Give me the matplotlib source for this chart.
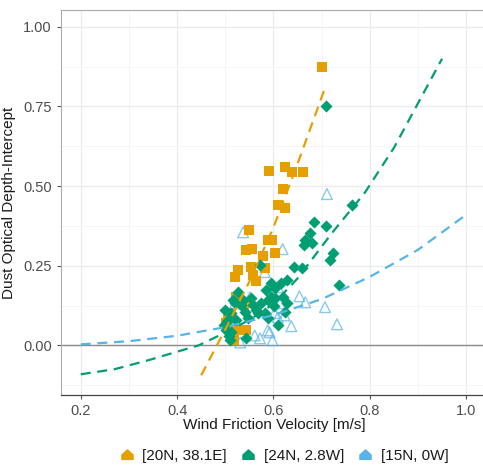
import matplotlib
matplotlib.use('Agg')
import matplotlib.pyplot as plt
import numpy as np
from matplotlib.path import Path
from matplotlib.lines import Line2D

plt.rcParams['font.family'] = ['Liberation Sans', 'DejaVu Sans']

# --- data ---
# [20N, 38.1E]
orange_x = [0.701, 0.590, 0.625, 0.639, 0.662, 0.619, 0.609, 0.623, 0.549, 0.588,
            0.596, 0.543, 0.555, 0.604, 0.578, 0.553, 0.526, 0.520, 0.557, 0.563,
            0.582, 0.522, 0.531, 0.539, 0.506, 0.547, 0.522, 0.543, 0.502, 0.512, 0.518]
orange_y = [0.874, 0.547, 0.560, 0.544, 0.544, 0.491, 0.440, 0.431, 0.362, 0.330,
            0.330, 0.299, 0.302, 0.289, 0.280, 0.245, 0.236, 0.214, 0.220, 0.201,
            0.242, 0.151, 0.132, 0.126, 0.101, 0.132, 0.047, 0.047, 0.069, 0.085, 0.016]

# [24N, 2.8W]
green_x = [0.709, 0.763, 0.685, 0.709, 0.676, 0.666, 0.664, 0.680, 0.724, 0.717,
           0.643, 0.660, 0.736, 0.629, 0.615, 0.604, 0.572, 0.594, 0.619, 0.629,
           0.588, 0.526, 0.533, 0.574, 0.563, 0.582, 0.588, 0.547, 0.625, 0.609,
           0.506, 0.502, 0.512, 0.543, 0.510, 0.604, 0.568, 0.602, 0.512, 0.520,
           0.500, 0.504, 0.508, 0.516, 0.537, 0.553, 0.557, 0.541, 0.522, 0.498,
           0.584, 0.594]
green_y = [0.752, 0.440, 0.387, 0.374, 0.352, 0.330, 0.315, 0.321, 0.289, 0.267,
           0.245, 0.242, 0.189, 0.204, 0.195, 0.179, 0.252, 0.151, 0.151, 0.132,
           0.142, 0.167, 0.126, 0.132, 0.110, 0.101, 0.085, 0.085, 0.104, 0.063,
           0.079, 0.047, 0.041, 0.022, 0.016, 0.148, 0.101, 0.123, 0.101, 0.132,
           0.110, 0.072, 0.028, 0.142, 0.142, 0.148, 0.126, 0.104, 0.079, 0.063,
           0.173, 0.195]

# [15N, 0W]
blue_x = [0.711, 0.537, 0.619, 0.582, 0.609, 0.654, 0.666, 0.707, 0.637, 0.732,
          0.520, 0.551, 0.613, 0.602, 0.561, 0.572, 0.592, 0.520, 0.531, 0.506,
          0.609, 0.588, 0.623, 0.598, 0.502]
blue_y = [0.475, 0.355, 0.302, 0.230, 0.182, 0.154, 0.135, 0.120, 0.060, 0.066,
          0.132, 0.151, 0.132, 0.101, 0.031, 0.022, 0.041, 0.053, 0.009, 0.094,
          0.088, 0.047, 0.094, 0.016, 0.072]

# fitted curves
fit_orange_x = [0.45, 0.50, 0.55, 0.60, 0.65, 0.705]
fit_orange_y = [-0.094, 0.05, 0.20, 0.37, 0.57, 0.80]
fit_green_x = [0.20, 0.27, 0.34, 0.40, 0.445, 0.50, 0.55, 0.60, 0.65, 0.68, 0.72,
               0.79, 0.85, 0.90, 0.95]
fit_green_y = [-0.091, -0.075, -0.047, -0.02, 0.0, 0.04, 0.08, 0.13, 0.21, 0.27,
               0.35, 0.48, 0.62, 0.76, 0.90]
fit_blue_x = [0.2, 0.3, 0.4, 0.5, 0.6, 0.7, 0.8, 0.9, 1.0]
fit_blue_y = [0.003, 0.013, 0.03, 0.057, 0.095, 0.145, 0.215, 0.30, 0.41]

labels = ['[20N, 38.1E]', '[24N, 2.8W]', '[15N, 0W]']
c_orange, c_green, c_blue = '#E69F00', '#009E73', '#56B4E9'

fig = plt.figure(figsize=(4.83, 4.68), dpi=100)
ax = fig.add_axes([61 / 483, 1 - 395 / 468, 1 - 61 / 483 + 0.01, (395 - 10) / 468])

# grid
ax.set_xticks([0.2, 0.4, 0.6, 0.8, 1.0])
ax.set_xticks([0.3, 0.5, 0.7, 0.9], minor=True)
ax.set_yticks([0.0, 0.25, 0.5, 0.75, 1.0])
ax.set_yticks([-0.125, 0.125, 0.375, 0.625, 0.875], minor=True)
ax.grid(True, which='major', color='#EBEBEB', linewidth=0.9)
ax.grid(True, which='minor', color='#F4F4F4', linewidth=0.6)
ax.set_axisbelow(True)
ax.tick_params(which='minor', length=0)
ax.tick_params(which='major', length=3, color='#555555', labelcolor='#4D4D4D',
               labelsize=10.5, width=0.8)
ax.set_xticklabels(['0.2', '0.4', '0.6', '0.8', '1.0'])
ax.set_yticklabels(['0.00', '0.25', '0.50', '0.75', '1.00'])

ax.axhline(0, color='#8C8C8C', linewidth=1.0, zorder=1)

ax.scatter(blue_x, blue_y, marker='^', s=60, facecolors='none', edgecolors=c_blue,
           linewidths=1.0, alpha=0.7, zorder=3)
ax.scatter(orange_x, orange_y, marker='s', s=44, color=c_orange, linewidths=0, zorder=3)
ax.scatter(green_x, green_y, marker='D', s=38, color=c_green, linewidths=0, zorder=4)

dash = (4.5, 3)
ax.plot(fit_orange_x, fit_orange_y, color=c_orange, lw=1.6, dashes=dash, zorder=5)
ax.plot(fit_green_x, fit_green_y, color=c_green, lw=1.6, dashes=dash, zorder=5)
ax.plot(fit_blue_x, fit_blue_y, color=c_blue, lw=1.6, dashes=dash, zorder=5)

ax.set_xlim(0.159, 1.045)
ax.set_ylim(-0.156, 1.053)

for s in ['top', 'left']:
    ax.spines[s].set_color('#AAAAAA')
    ax.spines[s].set_linewidth(0.8)
ax.spines['bottom'].set_color('#444444')
ax.spines['bottom'].set_linewidth(0.9)
ax.spines['right'].set_visible(False)

ax.set_xlabel('Wind Friction Velocity [m/s]', fontsize=11, color='#1A1A1A', labelpad=0)
ax.set_ylabel('Dust Optical Depth-Intercept', fontsize=11, color='#1A1A1A', labelpad=5)

# legend key looks like a blended shape in the original
house = Path([(-1, -0.7), (1, -0.7), (1, 0.1), (0, 1), (-1, 0.1), (-1, -0.7)],
             [Path.MOVETO, Path.LINETO, Path.LINETO, Path.LINETO, Path.LINETO, Path.CLOSEPOLY])
handles = [Line2D([], [], linestyle='none', marker=house, markersize=8, color=c)
           for c in (c_orange, c_green, c_blue)]
fig.legend(handles, labels, loc='center', bbox_to_anchor=(284 / 483, 1 - 456 / 468),
           ncol=3, frameon=False, fontsize=11, handletextpad=0.5, columnspacing=0.9,
           handlelength=1.0, labelcolor='#1A1A1A')

plt.savefig('out.png', dpi=100)
